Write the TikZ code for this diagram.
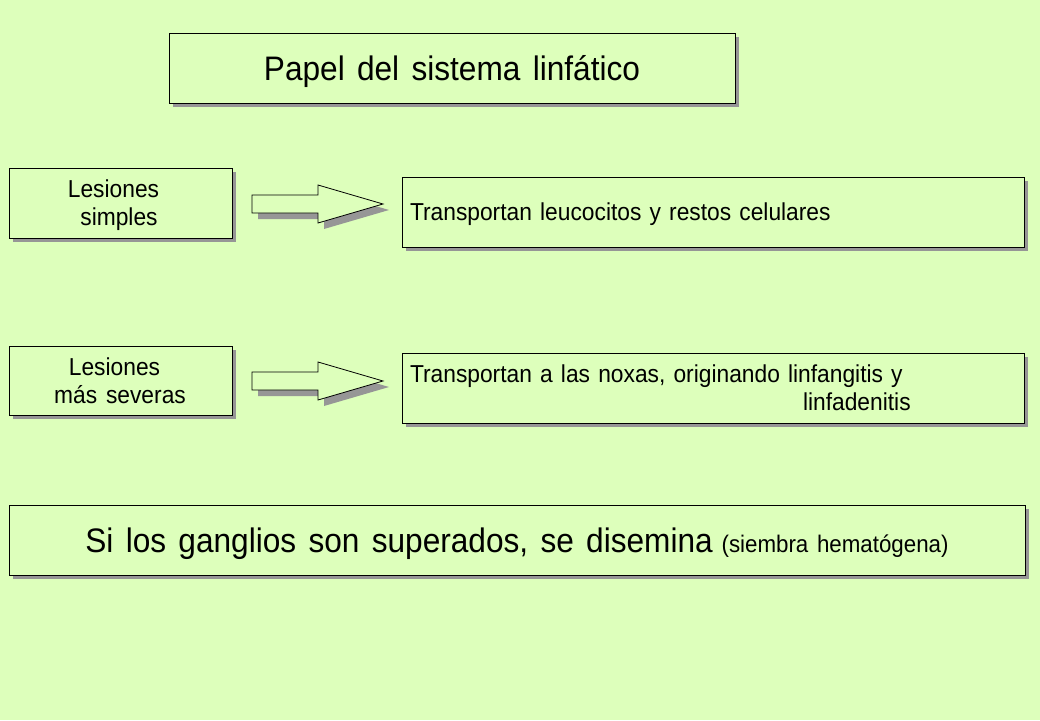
\documentclass[tikz,border=0pt]{standalone}
\usepackage{fontspec}
\setmainfont{Liberation Sans}[FakeStretch=0.93, WordSpace=1.4]
\usetikzlibrary{shadows}
\definecolor{bg}{RGB}{221,255,187}
\definecolor{shadowgray}{RGB}{150,150,150}
\tikzset{
  box/.style={draw=black, line width=0.9pt, fill=bg, inner sep=0pt,
    drop shadow={shadow xshift=4pt, shadow yshift=-4pt, fill=shadowgray, opacity=1}},
  lowered/.style={text depth=0pt},
  smalltext/.style={font=\fontsize{24.5}{28}\selectfont},
  blockarrow/.pic={
    \fill[shadowgray] (6,-3) -- (72,-3) -- (72,-13) -- (137,6) -- (72,25) -- (72,15) -- (6,15) -- cycle;
    \draw[line width=0.8pt, fill=bg, line join=miter] (0,-9) -- (66,-9) -- (66,-19) -- (131,0) -- (66,19) -- (66,9) -- (0,9) -- cycle;
  }
}
\begin{document}
\begin{tikzpicture}[x=1pt, y=-1pt]
\fill[bg] (0,0) rectangle (1040,720);
\useasboundingbox (0,0) rectangle (1040,720);

\node[box, lowered, minimum width=566pt, minimum height=70pt, font=\fontsize{34}{40}\selectfont]
  (title) at (452,68) {Papel del sistema linfático};

\node[box, lowered, minimum width=223pt, minimum height=70pt, smalltext, align=center]
  (l1) at (120.5,203) {Lesiones\hspace*{14pt}\\\hspace*{0pt}simples\hspace*{3pt}};
\node[box, lowered, minimum width=622pt, minimum height=70pt, smalltext, align=left, text width=606pt]
  (t1) at (713,212) {Transportan leucocitos y restos celulares};

\node[box, minimum width=223pt, minimum height=69pt, smalltext, align=center]
  (l2) at (120.5,380.5) {Lesiones\hspace*{12pt}\\más severas\hspace*{1pt}};
\node[box, minimum width=622pt, minimum height=70pt, smalltext, align=left, text width=606pt]
  (t2) at (713,388) {Transportan a las noxas, originando linfangitis y\\\hspace*{393pt}linfadenitis};

\node[box, lowered, minimum width=1016pt, minimum height=70pt]
  (bottom) at (517,540) {{\fontsize{34}{40}\selectfont Si los ganglios son superados, se disemina}{\fontsize{24}{28}\selectfont\ (siembra hematógena)}};

\coordinate (a1) at (252,204);
\coordinate (a2) at (252,381);
\pic at (a1) {blockarrow};
\pic at (a2) {blockarrow};
\end{tikzpicture}
\end{document}
